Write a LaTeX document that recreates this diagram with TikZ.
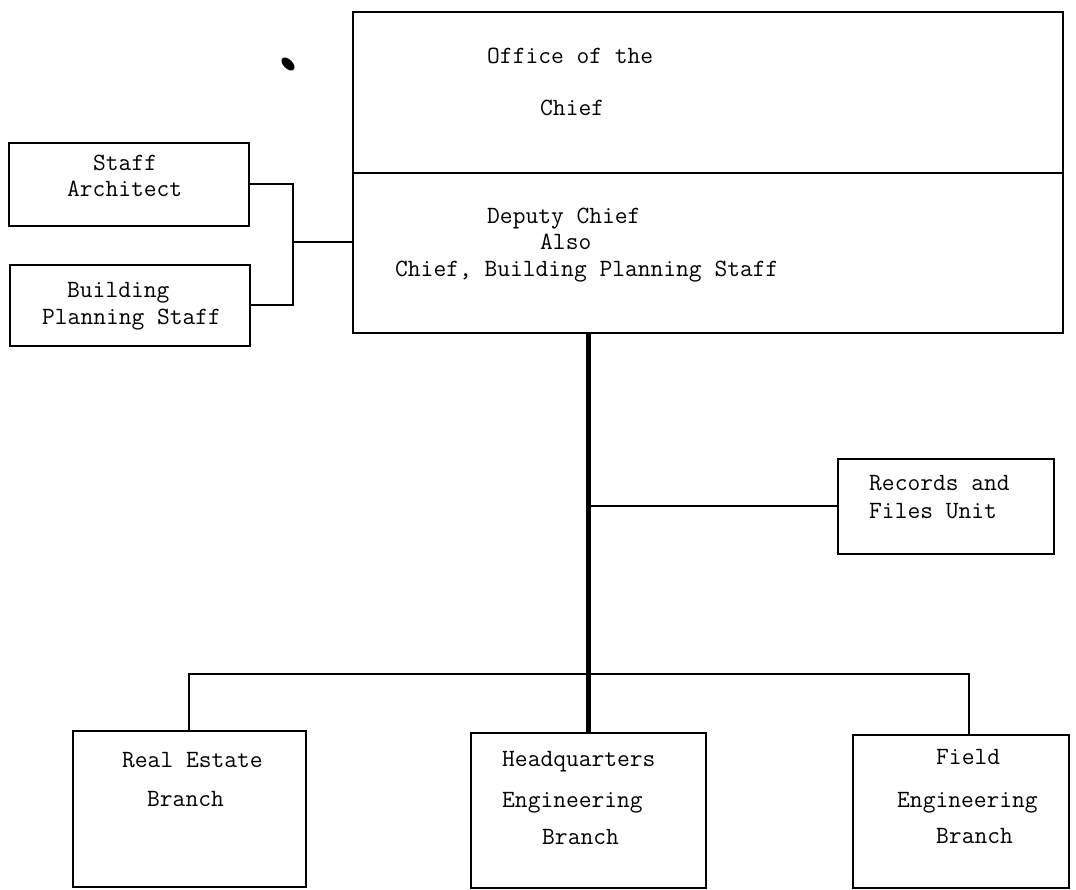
\documentclass[tikz,border=0pt]{standalone}
\usepackage{fontspec}
\tikzset{
  orgbox/.style={draw, line width=1.8pt, inner sep=0pt, anchor=north west},
  lbl/.style={anchor=base west, inner sep=0pt, font=\ttfamily\addfontfeatures{FakeBold=0.6}\fontsize{24.8}{30}\selectfont},
  link/.style={line width=2pt},
  trunk/.style={line width=4.2pt}
}
\begin{document}
\begin{tikzpicture}[x=1pt,y=-1pt]
\useasboundingbox (0,0) rectangle (1076,889);
% boxes
\node[orgbox, minimum width=710pt, minimum height=161pt] (chief) at (352,11) {};
\node[orgbox, minimum width=710pt, minimum height=160pt] (deputy) at (352,172) {};
\node[orgbox, minimum width=240pt, minimum height=83pt] (sa) at (8,142) {};
\node[orgbox, minimum width=240pt, minimum height=81pt] (bps) at (9,264) {};
\node[orgbox, minimum width=216pt, minimum height=95pt] (rec) at (837,458) {};
\node[orgbox, minimum width=233pt, minimum height=156pt] (re) at (72,730) {};
\node[orgbox, minimum width=235pt, minimum height=155pt] (hq) at (470,732) {};
\node[orgbox, minimum width=216pt, minimum height=153pt] (fe) at (852,734) {};
% texts
\node[lbl] (t1) at (487,63) {Office of the};
\node[lbl] (t2) at (540,115) {Chief};
\node[lbl] (t3) at (487,223) {Deputy Chief};
\node[lbl] (t4) at (540,249) {Also};
\node[lbl] (t5) at (395,276) {Chief, Building Planning Staff};
\node[lbl] (t6) at (93,170) {Staff};
\node[lbl] (t7) at (67,196) {Architect};
\node[lbl] (t8) at (67,297) {Building};
\node[lbl] (t9) at (42,324) {Planning Staff};
\node[lbl] (t10) at (869,490) {Records and};
\node[lbl] (t11) at (869,518) {Files Unit};
\node[lbl] (t12) at (122,767) {Real Estate};
\node[lbl] (t13) at (147,806) {Branch};
\node[lbl] (t14) at (502,766) {Headquarters};
\node[lbl] (t15) at (502,807) {Engineering};
\node[lbl] (t16) at (542,844) {Branch};
\node[lbl] (t17) at (936,764) {Field};
\node[lbl] (t18) at (897,807) {Engineering};
\node[lbl] (t19) at (936,843) {Branch};
% connectors
\coordinate (j) at (293,242);
\coordinate (fd) at (969,674);
\draw[link] (sa.east) -| (j) |- (bps.east);
\draw[link] (j) -- (j -| deputy.west);
\draw[trunk] (hq.north |- deputy.south) -- (hq.north);
\draw[link] (rec.west) -- (rec.west -| hq.north);
\draw[link] (re.north) -- (re.north |- fd) -- (fd) -- (fd |- fe.north);
% stray mark
\fill[rotate around={-45:(288,64)}] (288,64) ellipse (8pt and 4.5pt);
\end{tikzpicture}
\end{document}
